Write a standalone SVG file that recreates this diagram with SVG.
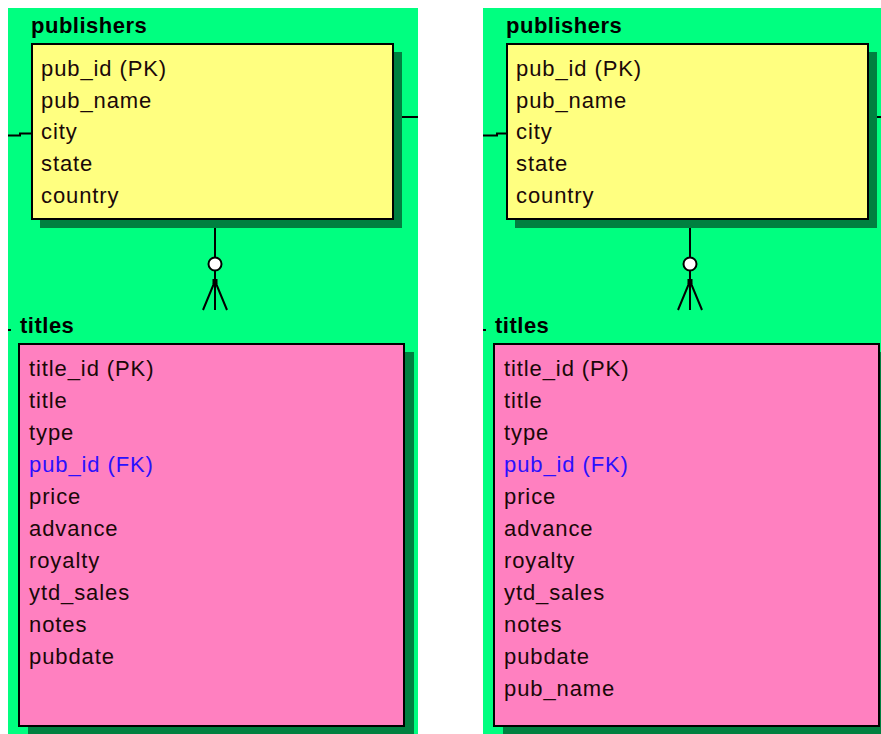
<svg xmlns="http://www.w3.org/2000/svg" width="881" height="734" viewBox="0 0 881 734">
<style>
.bg{fill:#00ff80}
.sh{fill:#008040}
.pub{fill:#ffff80;stroke:#000;stroke-width:2}
.tit{fill:#ff80c0;stroke:#000;stroke-width:2}
.hd{font-family:"Liberation Sans",Arial,sans-serif;font-size:22px;font-weight:bold;fill:#000;letter-spacing:0.5px}
.f{font-family:"Liberation Sans",Arial,sans-serif;font-size:22px;fill:#1a0808;letter-spacing:0.9px}
.fk{fill:#2a10ff}
.ln{fill:none;stroke:#000;stroke-width:2}
.ft{fill:none;stroke:#000;stroke-width:2}
.ci{fill:#fff;stroke:#000;stroke-width:2}
</style>
<rect width="881" height="734" fill="#fff"/>
<rect class="bg" x="8" y="8" width="410" height="726"/>
<rect class="bg" x="483" y="8" width="398" height="726"/>

<g id="publishers-left">
<text class="hd" x="31" y="33">publishers</text>
<rect class="sh" x="40" y="52" width="362" height="176"/>
<rect class="pub" x="32" y="44" width="361" height="175"/>
<text class="f" x="41" y="76">pub_id (PK)</text>
<text class="f" x="41" y="108">pub_name</text>
<text class="f" x="41" y="139">city</text>
<text class="f" x="41" y="171">state</text>
<text class="f" x="41" y="203">country</text>
</g>

<g id="titles-left">
<text class="hd" x="20" y="333">titles</text>
<rect class="sh" x="28" y="352" width="386" height="382"/>
<rect class="tit" x="19" y="344" width="385" height="382"/>
<text class="f" x="29" y="376">title_id (PK)</text>
<text class="f" x="29" y="408">title</text>
<text class="f" x="29" y="440">type</text>
<text class="f fk" x="29" y="472">pub_id (FK)</text>
<text class="f" x="29" y="504">price</text>
<text class="f" x="29" y="536">advance</text>
<text class="f" x="29" y="568">royalty</text>
<text class="f" x="29" y="600">ytd_sales</text>
<text class="f" x="29" y="632">notes</text>
<text class="f" x="29" y="664">pubdate</text>
</g>

<g id="publishers-right">
<text class="hd" x="506" y="33">publishers</text>
<rect class="sh" x="515" y="52" width="362" height="176"/>
<rect class="pub" x="507" y="44" width="361" height="175"/>
<text class="f" x="516" y="76">pub_id (PK)</text>
<text class="f" x="516" y="108">pub_name</text>
<text class="f" x="516" y="139">city</text>
<text class="f" x="516" y="171">state</text>
<text class="f" x="516" y="203">country</text>
</g>

<g id="titles-right">
<text class="hd" x="495" y="333">titles</text>
<rect class="sh" x="503" y="352" width="386" height="382"/>
<rect class="tit" x="494" y="344" width="385" height="382"/>
<text class="f" x="504" y="376">title_id (PK)</text>
<text class="f" x="504" y="408">title</text>
<text class="f" x="504" y="440">type</text>
<text class="f fk" x="504" y="472">pub_id (FK)</text>
<text class="f" x="504" y="504">price</text>
<text class="f" x="504" y="536">advance</text>
<text class="f" x="504" y="568">royalty</text>
<text class="f" x="504" y="600">ytd_sales</text>
<text class="f" x="504" y="632">notes</text>
<text class="f" x="504" y="664">pubdate</text>
<text class="f" x="504" y="696">pub_name</text>
</g>

<g id="connectors">
<path class="ln" d="M8 135.5H20V133.5H31"/>
<path class="ln" d="M402 117H418"/>
<path class="ln" d="M8 330H11"/>
<path class="ln" d="M215 228V257M215 271V310"/>
<circle class="ci" cx="215" cy="264" r="6.5"/>
<rect x="212.5" y="279" width="5" height="5" fill="#000"/>
<path class="ft" d="M215 281L203 310M215 281L227 310"/>

<path class="ln" d="M483 135.5H497V133.5H506"/>
<path class="ln" d="M877 117H881"/>
<path class="ln" d="M483 330H486"/>
<path class="ln" d="M690 228V257M690 271V310"/>
<circle class="ci" cx="690" cy="264" r="6.5"/>
<rect x="687.5" y="279" width="5" height="5" fill="#000"/>
<path class="ft" d="M690 281L678 310M690 281L702 310"/>
</g>
</svg>
